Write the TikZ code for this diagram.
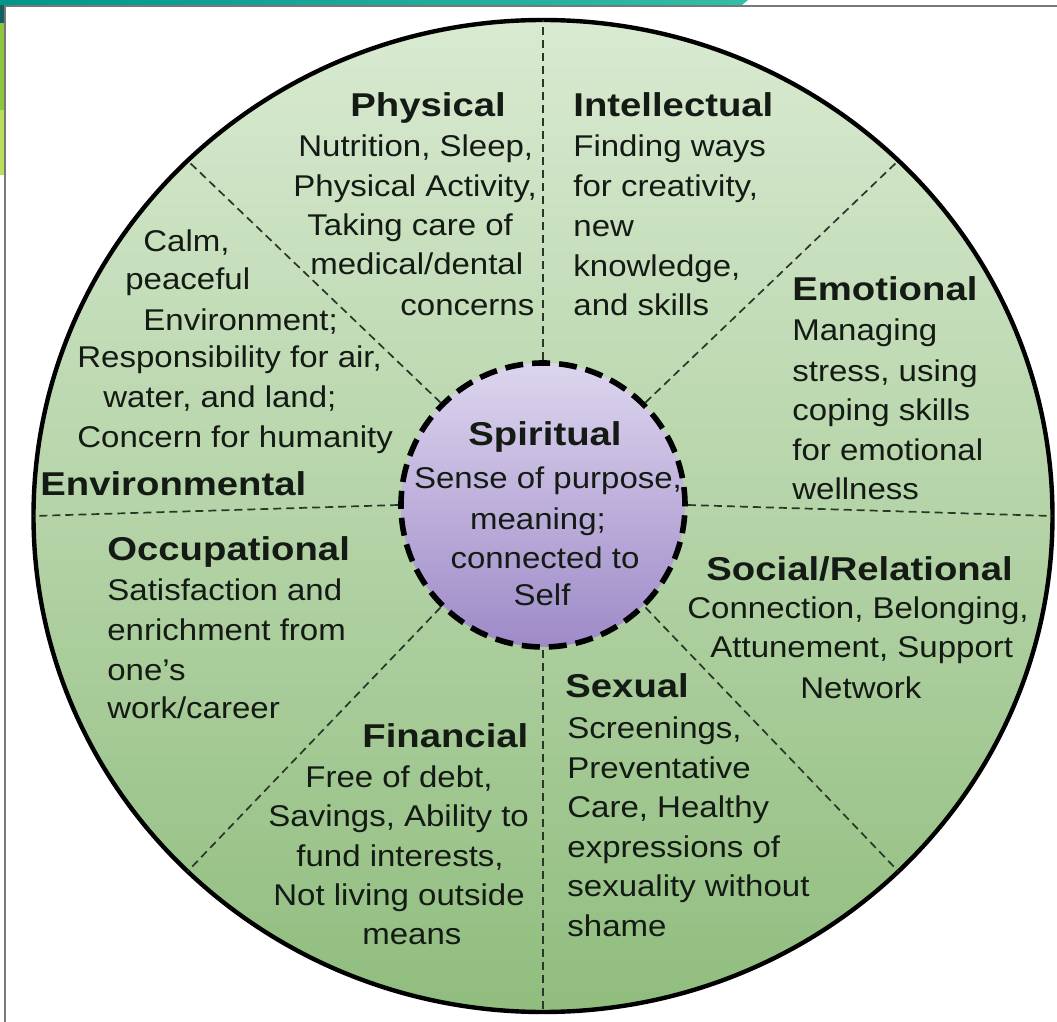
\documentclass[tikz,border=0pt]{standalone}
\usepackage{fontspec}
\setmainfont{Liberation Sans}
\newfontfamily\bodyfont[FakeStretch=1.1]{Liberation Sans}
\newfontfamily\headfont[FakeStretch=1.16]{Liberation Sans}
\usetikzlibrary{shapes.geometric}

\definecolor{wheeltop}{RGB}{217,234,209}
\definecolor{wheelbot}{RGB}{144,189,126}
\definecolor{spirittop}{RGB}{221,213,238}
\definecolor{spiritbot}{RGB}{158,138,200}
\definecolor{ink}{RGB}{20,26,20}
\definecolor{divider}{RGB}{40,55,40}
\definecolor{framegray}{RGB}{120,120,120}
\definecolor{barteal}{RGB}{0,150,138}
\definecolor{barlight}{RGB}{50,190,168}
\definecolor{stripdark}{RGB}{16,96,100}
\definecolor{stripgreen}{RGB}{140,198,63}
\definecolor{striplight}{RGB}{184,222,92}

\begin{document}
\begin{tikzpicture}[x=0.5pt,y=-0.5pt,
  head/.style={anchor=base west, inner sep=0pt, text=ink,
    font=\headfont\bfseries\fontsize{16.5}{19}\selectfont},
  body/.style={anchor=base west, inner sep=0pt, text=ink,
    font=\bodyfont\fontsize{15}{19}\selectfont},
  divide/.style={draw=divider, line width=0.85pt, dash pattern=on 4pt off 2.5pt},
]
\useasboundingbox (0,0) rectangle (1057,1022);
\fill[white] (0,0) rectangle (1057,1022);

% slide decoration: top bar and left strip
\shade[left color=barteal, right color=barlight]
  (0,0) -- (748,0) -- (742,5) -- (0,5) -- cycle;
\fill[stripdark]  (0,5)   rectangle (4,23);
\fill[stripgreen] (0,23)  rectangle (4,110);
\fill[striplight] (0,110) rectangle (4,175);
\draw[framegray, line width=1pt] (5,1022) -- (5,6) -- (1057,6);

% the wellness wheel
\node[ellipse, draw=black, line width=2.2pt, inner sep=0pt, outer sep=0pt,
      minimum width=509.5pt, minimum height=496pt,
      top color=wheeltop, bottom color=wheelbot] (wheel) at (543,516) {};

% spiritual hub
\node[circle, draw=black, line width=2.8pt, dash pattern=on 9pt off 4.5pt,
      inner sep=0pt, outer sep=1.4pt, minimum size=142pt,
      top color=spirittop, bottom color=spiritbot] (spirit) at (543,505) {};

% dividers between the dimensions
\foreach \a in {0,45,...,315}
  \draw[divide] (spirit.\a) -- (wheel.\a);

% Physical
\node[head] (phy0) at (350,117) {Physical};
\node[body] (phy1) at (298,157) {Nutrition, Sleep,};
\node[body] (phy2) at (293,197) {Physical Activity,};
\node[body] (phy3) at (307,236) {Taking care of};
\node[body] (phy4) at (310,275) {medical/dental};
\node[body] (phy5) at (400,315) {concerns};

% Intellectual
\node[head] (int0) at (573,117) {Intellectual};
\node[body] (int1) at (573,157) {Finding ways};
\node[body] (int2) at (573,197) {for creativity,};
\node[body] (int3) at (573,237) {new};
\node[body] (int4) at (573,277) {knowledge,};
\node[body] (int5) at (573,315) {and skills};

% Emotional
\node[head] (emo0) at (792,300) {Emotional};
\node[body] (emo1) at (792,341) {Managing};
\node[body] (emo2) at (792,381) {stress, using};
\node[body] (emo3) at (792,421) {coping skills};
\node[body] (emo4) at (792,460) {for emotional};
\node[body] (emo5) at (792,500) {wellness};

% Environmental
\node[body] (env1) at (143,252) {Calm,};
\node[body] (env2) at (125,290) {peaceful};
\node[body] (env3) at (143,330) {Environment;};
\node[body] (env4) at (77,368)  {Responsibility for air,};
\node[body] (env5) at (103,408) {water, and land;};
\node[body] (env6) at (77,447)  {Concern for humanity};
\node[head] (env0) at (40,495)  {Environmental};

% Occupational
\node[head] (occ0) at (107,560) {Occupational};
\node[body] (occ1) at (107,600) {Satisfaction and};
\node[body] (occ2) at (107,640) {enrichment from};
\node[body] (occ3) at (107,680) {one’s};
\node[body] (occ4) at (107,718) {work/career};

% Financial
\node[head] (fin0) at (362,747) {Financial};
\node[body] (fin1) at (305,787) {Free of debt,};
\node[body] (fin2) at (268,826) {Savings, Ability to};
\node[body] (fin3) at (296,866) {fund interests,};
\node[body] (fin4) at (273,905) {Not living outside};
\node[body] (fin5) at (362,944) {means};

% Sexual
\node[head] (sex0) at (565,697) {Sexual};
\node[body] (sex1) at (567,738) {Screenings,};
\node[body] (sex2) at (567,778) {Preventative};
\node[body] (sex3) at (567,817) {Care, Healthy};
\node[body] (sex4) at (567,857) {expressions of};
\node[body] (sex5) at (567,896) {sexuality without};
\node[body] (sex6) at (567,936) {shame};

% Social/Relational
\node[head] (soc0) at (706,581) {Social/Relational};
\node[body] (soc1) at (687,618) {Connection, Belonging,};
\node[body] (soc2) at (710,657) {Attunement, Support};
\node[body] (soc3) at (800,698) {Network};

% Spiritual
\node[head, anchor=base] (spi0) at (545,445) {Spiritual};
\node[body, anchor=base] (spi1) at (548,488) {Sense of purpose,};
\node[body, anchor=base] (spi2) at (538,530) {meaning;};
\node[body, anchor=base] (spi3) at (545,568) {connected to};
\node[body, anchor=base] (spi4) at (542,605) {Self};
\end{tikzpicture}
\end{document}
